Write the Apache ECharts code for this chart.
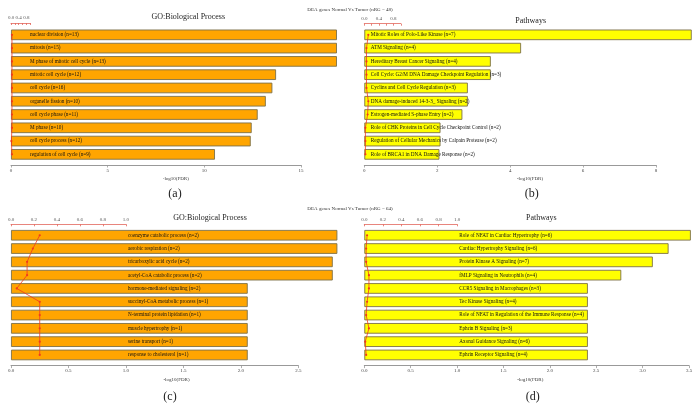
<!DOCTYPE html>
<html><head><meta charset="utf-8">
<script src="https://cdn.jsdelivr.net/npm/echarts@6/dist/echarts.min.js"></script>
<style>html,body{margin:0;padding:0;background:#fff}#c{width:700px;height:412px}</style>
</head><body><div id="c"></div>
<script>
// ---------- data ----------
const catsA = ['nuclear division (n=13)','mitosis (n=15)','M phase of mitotic cell cycle (n=13)','mitotic cell cycle (n=12)','cell cycle (n=16)','organelle fission (n=10)','cell cycle phase (n=11)','M phase (n=10)','cell cycle process (n=12)','regulation of cell cycle (n=9)'];
const valsA = [16.86,16.86,16.86,13.71,13.52,13.18,12.76,12.45,12.40,10.55];
const ratioA = [0.05,0.05,0.05,0.05,0.05,0.05,0.05,0.05,0.02,0.05];

const catsB = ['Mitotic Roles of Polo-Like Kinase (n=7)','ATM Signaling (n=4)','Hereditary Breast Cancer Signaling (n=4)','Cell Cycle: G2/M DNA Damage Checkpoint Regulation (n=3)','Cyclins and Cell Cycle Regulation (n=3)','DNA damage-induced 14-3-3_ Signaling (n=2)','Estrogen-mediated S-phase Entry (n=2)','Role of CHK Proteins in Cell Cycle Checkpoint Control (n=2)','Regulation of Cellular Mechanics by Calpain Protease (n=2)','Role of BRCA1 in DNA Damage Response (n=2)'];
const valsB = [8.98,4.30,3.47,3.47,2.84,2.84,2.69,2.09,2.09,2.06];
const ratioB = [0.11,0.06,0.06,0.06,0.06,0.11,0.09,0.03,0.03,0.03];

const catsC = ['coenzyme catabolic process (n=2)','aerobic respiration (n=2)','tricarboxylic acid cycle (n=2)','acetyl-CoA catabolic process (n=2)','hormone-mediated signaling (n=2)','succinyl-CoA metabolic process (n=1)','N-terminal protein lipidation (n=1)','muscle hypertrophy (n=1)','serine transport (n=1)','response to cholesterol (n=1)'];
const valsC = [2.84,2.84,2.80,2.80,2.06,2.06,2.06,2.06,2.06,2.06];
const ratioC = [0.25,0.19,0.14,0.14,0.05,0.25,0.25,0.25,0.25,0.25];

const catsD = ['Role of NFAT in Cardiac Hypertrophy (n=6)','Cardiac Hypertrophy Signaling (n=6)','Protein Kinase A Signaling (n=7)','fMLP Signaling in Neutrophils (n=4)','CCR5 Signaling in Macrophages (n=3)','Tec Kinase Signaling (n=4)','Role of NFAT in Regulation of the Immune Response (n=4)','Ephrin B Signaling (n=3)','Axonal Guidance Signaling (n=6)','Ephrin Receptor Signaling (n=4)'];
const valsD = [3.52,3.28,3.11,2.77,2.41,2.41,2.41,2.41,2.41,2.41];
const ratioD = [0.03,0.02,0.02,0.05,0.05,0.03,0.02,0.05,0.01,0.02];

const axisMax = [15, 8, 2.5, 3.5];
const axisStep = [5, 2, 0.5, 0.5];
const axisDec = [0, 0, 1, 1];
const topLabelStep = [0.4, 0.4, 0.2, 0.2];
const panelTitles = ['GO:Biological Process','Pathways','GO:Biological Process','Pathways'];
const mainTitles = ['DEA genes Normal Vs Tumor (nRG = 48)','DEA genes Normal Vs Tumor (nRG = 64)'];
const tags = ['(a)','(b)','(c)','(d)'];
const xName = '-log10(FDR)';

// ---------- layout / style ----------
const FONT = "'Liberation Serif','DejaVu Serif',serif";
const layout = [
  {left:11,    width:290,   top:28.2,  height:132.8, color:'#FFA500', dx:19,  topOff:5.2},
  {left:364.3, width:291.7, top:28.2,  height:132.8, color:'#FFFF00', dx:6.5, topOff:4.5},
  {left:11,    width:287.3, top:228.6, height:133,   color:'#FFA500', dx:117, topOff:4.3},
  {left:364.3, width:324.7, top:228.6, height:133,   color:'#FFFF00', dx:95,  topOff:4.3}
];
const panels = [
  {cats:catsA, vals:valsA, ratio:ratioA},
  {cats:catsB, vals:valsB, ratio:ratioB},
  {cats:catsC, vals:valsC, ratio:ratioC},
  {cats:catsD, vals:valsD, ratio:ratioD}
];

const grid = [], xAxis = [], yAxis = [], series = [];
panels.forEach((p, i) => {
  const L = layout[i];
  grid.push({left:L.left, width:L.width, top:L.top, height:L.height, containLabel:false});
  const gi = grid.length - 1;
  xAxis.push({
    type:'value', gridIndex:gi, min:0, max:axisMax[i], interval:axisStep[i], position:'bottom', offset:4,
    axisLine:{show:true, lineStyle:{color:'#999', width:1}},
    axisTick:{show:true, length:2.5, lineStyle:{color:'#999', width:0.8}},
    axisLabel:{fontSize:5, color:'#444', fontFamily:FONT, margin:3,
      formatter:v => v.toFixed(axisDec[i])},
    splitLine:{show:false}
  });
  yAxis.push({type:'category', gridIndex:gi, data:p.cats, inverse:true, show:false});
  series.push({
    type:'bar', xAxisIndex:xAxis.length-1, yAxisIndex:yAxis.length-1,
    data:p.vals, barCategoryGap:'20%', clip:false,
    itemStyle:{color:L.color, borderColor:'#7d7048', borderWidth:0.9},
    label:{show:true, position:[L.dx, '50%'], align:'left', verticalAlign:'middle',
      formatter:'{b}', fontSize:5.2, color:'#111', fontFamily:FONT},
    silent:true, animation:false
  });
  grid.push({left:L.left, width:L.width / axisMax[i], top:L.top, height:L.height, containLabel:false});
  const gj = grid.length - 1;
  xAxis.push({
    type:'value', gridIndex:gj, min:0, max:1, interval:0.2, position:'top', offset:L.topOff,
    axisLine:{show:true, lineStyle:{color:'#e2665c', width:0.8}},
    axisTick:{show:true, inside:true, length:2, lineStyle:{color:'#e2665c', width:0.8}},
    axisLabel:{fontSize:5, color:'#555', fontFamily:FONT, margin:2.5,
      formatter:v => (Math.abs(v / topLabelStep[i] - Math.round(v / topLabelStep[i])) < 1e-6) ? v.toFixed(1) : ''},
    splitLine:{show:false}
  });
  yAxis.push({type:'category', gridIndex:gj, data:p.cats, inverse:true, show:false});
  series.push({
    type:'line', xAxisIndex:xAxis.length-1, yAxisIndex:yAxis.length-1,
    data:p.ratio, clip:false, z:5,
    symbol:'circle', symbolSize:2.2, showSymbol:true,
    lineStyle:{color:'#f03a1e', width:0.8}, itemStyle:{color:'#f03a1e'},
    silent:true, animation:false
  });
});

function txt(text, x, y, size, color) {
  return {type:'text', x:x, y:y, silent:true, z:10,
    style:{text:text, fontSize:size, fontFamily:FONT, fill:color||'#222',
      align:'center', textAlign:'center', verticalAlign:'middle', textVerticalAlign:'middle'}};
}
const graphic = [
  txt(mainTitles[0], 350, 10, 5, '#333'),
  txt(mainTitles[1], 350, 209, 5, '#333'),
  txt(panelTitles[0], 188.3, 17, 8),
  txt(panelTitles[1], 530.7, 20.5, 8),
  txt(panelTitles[2], 210, 217.7, 8),
  txt(panelTitles[3], 541.3, 217.7, 8),
  txt(xName, 175.8, 178.3, 5, '#333'),
  txt(xName, 530, 178.3, 5, '#333'),
  txt(xName, 176.5, 379.3, 5, '#333'),
  txt(xName, 530.3, 379.3, 5, '#333'),
  txt(tags[0], 175, 194, 12),
  txt(tags[1], 531.7, 194, 12),
  txt(tags[2], 170, 397.3, 12),
  txt(tags[3], 532.7, 397.3, 12)
];

const chart = echarts.init(document.getElementById('c'), null, {renderer:'canvas', width:700, height:412});
chart.setOption({animation:false, backgroundColor:'#fff', grid, xAxis, yAxis, series, graphic});
</script>
</body></html>
